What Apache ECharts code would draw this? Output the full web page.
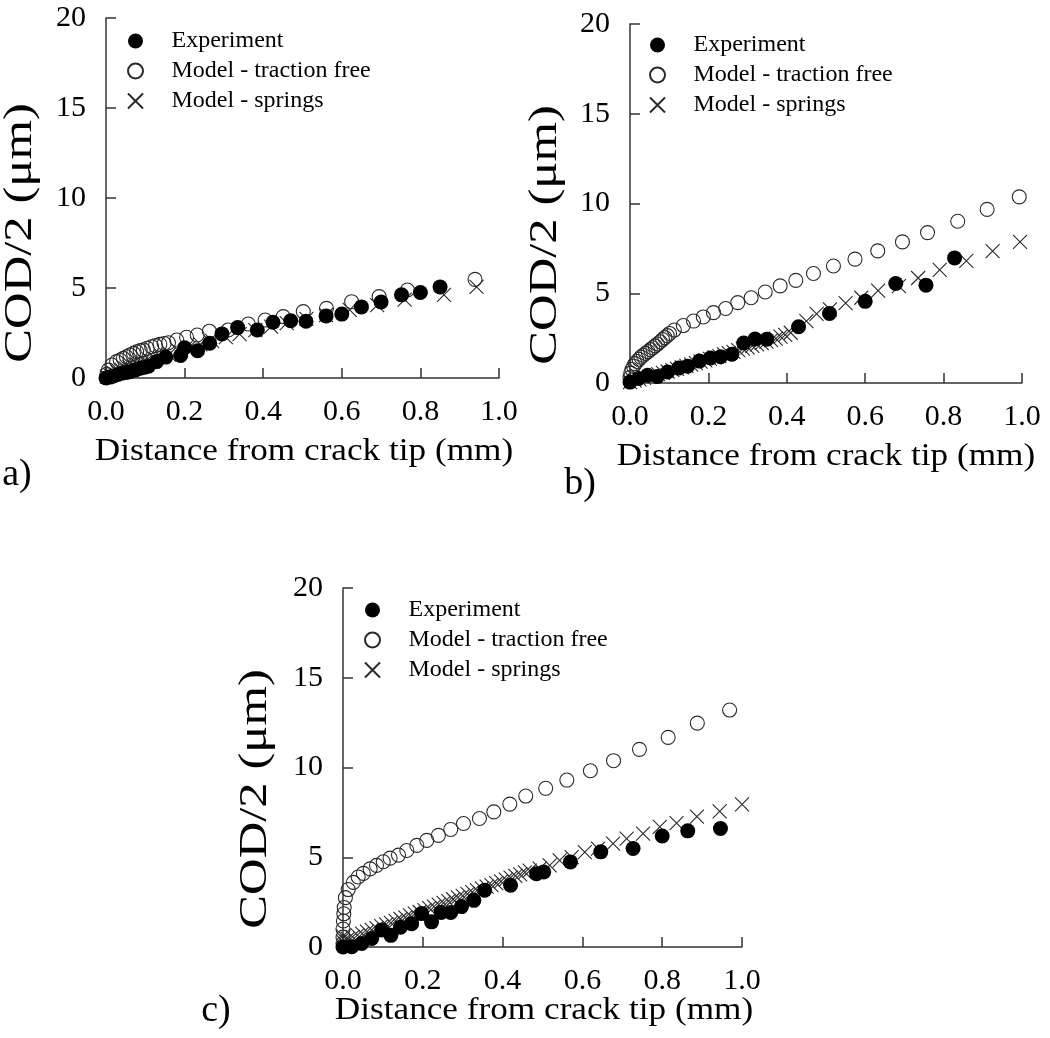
<!DOCTYPE html>
<html><head><meta charset="utf-8">
<script src="https://cdn.jsdelivr.net/npm/echarts@6/dist/echarts.min.js"></script>
<style>html,body{margin:0;padding:0;background:#fff}#c{width:1050px;height:1038px}</style>
</head><body><div id="c"></div>
<script>
// ---------- text ----------
const panelNames = ['a)', 'b)', 'c)'];
const seriesNames = ['Experiment', 'Model - traction free', 'Model - springs'];
const xTickLabels = ['0.0', '0.2', '0.4', '0.6', '0.8', '1.0'];
const yTickLabels = ['0', '5', '10', '15', '20'];
const xTitle = 'Distance from crack tip (mm)';
const yTitle = 'COD/2 (\u03bcm)';

// ---------- data (x: mm, y: µm) ----------
const expA = [[0.0,0.0],[0.01,0.05],[0.019,0.11],[0.03,0.2],[0.04,0.26],[0.05,0.3],[0.061,0.35],[0.075,0.45],[0.087,0.54],[0.098,0.6],[0.108,0.65],[0.129,0.91],[0.152,1.16],[0.19,1.25],[0.2,1.68],[0.233,1.52],[0.264,1.93],[0.295,2.45],[0.335,2.8],[0.385,2.67],[0.425,3.1],[0.47,3.18],[0.509,3.15],[0.56,3.45],[0.6,3.55],[0.65,3.95],[0.70,4.22],[0.752,4.62],[0.80,4.75],[0.85,5.06]];
const trfA = [[0.002,0.2],[0.006,0.44],[0.015,0.72],[0.027,0.91],[0.036,1.0],[0.044,1.09],[0.052,1.18],[0.061,1.28],[0.07,1.37],[0.078,1.46],[0.087,1.52],[0.095,1.56],[0.105,1.65],[0.116,1.74],[0.126,1.8],[0.137,1.87],[0.148,1.92],[0.159,1.96],[0.18,2.11],[0.205,2.26],[0.232,2.39],[0.263,2.6],[0.311,2.67],[0.362,3.0],[0.405,3.22],[0.451,3.41],[0.502,3.69],[0.561,3.87],[0.625,4.24],[0.695,4.52],[0.767,4.89],[0.939,5.48]];
const sprA = [[0.002,0.08],[0.01,0.17],[0.02,0.27],[0.03,0.36],[0.04,0.45],[0.05,0.53],[0.06,0.6],[0.07,0.68],[0.08,0.75],[0.09,0.82],[0.1,0.9],[0.112,0.97],[0.125,1.06],[0.14,1.17],[0.16,1.3],[0.185,1.49],[0.21,1.66],[0.24,1.87],[0.27,2.06],[0.305,2.27],[0.34,2.44],[0.38,2.66],[0.42,2.86],[0.46,3.05],[0.51,3.28],[0.56,3.5],[0.62,3.78],[0.69,4.05],[0.76,4.35],[0.86,4.62],[0.943,5.06]];

const expB = [[0.0,0.05],[0.022,0.25],[0.045,0.43],[0.07,0.36],[0.096,0.61],[0.124,0.83],[0.147,0.94],[0.177,1.22],[0.205,1.39],[0.231,1.46],[0.26,1.6],[0.29,2.23],[0.319,2.45],[0.349,2.44],[0.43,3.13],[0.509,3.87],[0.6,4.55],[0.678,5.54],[0.755,5.45],[0.828,6.97]];
const trfB = [[0.0,0.3],[0.002,0.55],[0.005,0.75],[0.009,0.93],[0.013,1.08],[0.018,1.2],[0.023,1.32],[0.028,1.44],[0.034,1.55],[0.04,1.65],[0.046,1.75],[0.052,1.86],[0.058,1.96],[0.064,2.07],[0.07,2.17],[0.077,2.3],[0.083,2.42],[0.089,2.53],[0.095,2.64],[0.101,2.76],[0.113,2.95],[0.136,3.2],[0.162,3.45],[0.187,3.68],[0.213,3.92],[0.244,4.15],[0.275,4.48],[0.309,4.75],[0.345,5.07],[0.383,5.41],[0.423,5.72],[0.468,6.1],[0.519,6.52],[0.574,6.9],[0.632,7.36],[0.695,7.86],[0.759,8.38],[0.836,9.01],[0.911,9.67],[0.993,10.37]];
const sprB = [[0.0,0.05],[0.012,0.13],[0.024,0.2],[0.036,0.28],[0.048,0.34],[0.06,0.42],[0.072,0.5],[0.084,0.56],[0.096,0.64],[0.108,0.72],[0.12,0.79],[0.132,0.87],[0.144,0.95],[0.156,1.02],[0.168,1.11],[0.18,1.19],[0.192,1.26],[0.204,1.35],[0.216,1.43],[0.228,1.5],[0.24,1.59],[0.252,1.67],[0.264,1.74],[0.276,1.83],[0.288,1.91],[0.3,1.98],[0.312,2.07],[0.324,2.15],[0.336,2.22],[0.348,2.31],[0.36,2.39],[0.372,2.47],[0.384,2.58],[0.396,2.68],[0.41,2.8],[0.45,3.45],[0.476,3.85],[0.51,4.1],[0.55,4.45],[0.59,4.75],[0.633,5.15],[0.686,5.4],[0.735,5.85],[0.79,6.3],[0.858,6.8],[0.925,7.35],[0.995,7.86]];

const expC = [[0.0,0.0],[0.022,0.02],[0.047,0.2],[0.072,0.47],[0.097,0.95],[0.12,0.65],[0.144,1.1],[0.172,1.3],[0.197,1.86],[0.222,1.4],[0.246,1.92],[0.27,1.92],[0.297,2.25],[0.328,2.6],[0.355,3.16],[0.42,3.44],[0.485,4.08],[0.503,4.18],[0.57,4.74],[0.646,5.3],[0.727,5.49],[0.8,6.18],[0.864,6.47],[0.946,6.6]];
const trfC = [[0.0,0.2],[0.0,0.55],[0.0,1.0],[0.001,1.45],[0.002,1.85],[0.003,2.2],[0.006,2.75],[0.013,3.2],[0.026,3.6],[0.038,3.9],[0.051,4.1],[0.068,4.35],[0.084,4.55],[0.101,4.75],[0.118,4.95],[0.139,5.12],[0.16,5.38],[0.185,5.66],[0.21,5.94],[0.239,6.22],[0.27,6.55],[0.302,6.88],[0.342,7.16],[0.378,7.53],[0.418,7.96],[0.458,8.41],[0.508,8.84],[0.561,9.3],[0.62,9.82],[0.678,10.38],[0.743,11.01],[0.815,11.68],[0.888,12.47],[0.969,13.2]];
const sprC = [[0.0,0.3],[0.0,0.6],[0.012,0.45],[0.024,0.56],[0.036,0.66],[0.048,0.75],[0.06,0.86],[0.072,0.96],[0.084,1.05],[0.096,1.16],[0.108,1.26],[0.12,1.35],[0.132,1.46],[0.144,1.56],[0.156,1.65],[0.168,1.76],[0.18,1.86],[0.192,1.95],[0.204,2.06],[0.216,2.16],[0.228,2.25],[0.24,2.36],[0.252,2.46],[0.264,2.55],[0.276,2.66],[0.288,2.76],[0.3,2.85],[0.312,2.96],[0.324,3.06],[0.336,3.15],[0.348,3.26],[0.36,3.36],[0.372,3.45],[0.384,3.56],[0.396,3.66],[0.408,3.75],[0.42,3.86],[0.432,3.96],[0.444,4.05],[0.456,4.16],[0.468,4.26],[0.493,4.37],[0.518,4.55],[0.543,4.83],[0.573,5.01],[0.606,5.29],[0.639,5.48],[0.677,5.76],[0.711,6.04],[0.752,6.32],[0.794,6.69],[0.836,6.9],[0.887,7.26],[0.944,7.55],[1.0,7.95]];

const panelData = [[expA, trfA, sprA], [expB, trfB, sprB], [expC, trfC, sprC]];

// ---------- layout / style ----------
const FONT = '"Liberation Serif", "Times New Roman", serif';
const AX = '#333';
const grids = [
  {left: 106, top: 18, width: 393, height: 360},
  {left: 630, top: 24, width: 392, height: 359},
  {left: 343, top: 588, width: 399, height: 359}
];
const legendPos = [{left: 127, top: 29}, {left: 649, top: 33}, {left: 364, top: 598}];
const xTitlePos = [[304, 452], [826, 457], [544, 1011]];
const yTitlePos = [[21, 233], [546, 235], [256, 799]];
const panelLabelPos = [[17, 475], [580, 484], [216, 1011]];

const CROSS = 'path://M0,0L10,10M10,0L0,10';
const seriesStyles = [
  {symbol: 'circle', symbolSize: 15, itemStyle: {color: '#000', borderColor: '#000', borderWidth: 0, opacity: 1}},
  {symbol: 'circle', symbolSize: 14, itemStyle: {color: 'rgba(0,0,0,0)', borderColor: '#2a2a2a', borderWidth: 1.1, opacity: 1}},
  {symbol: CROSS, symbolSize: 14, itemStyle: {color: 'rgba(0,0,0,0)', borderColor: '#2a2a2a', borderWidth: 1.1, opacity: 1}}
];
const drawOrder = [2, 1, 0]; // springs, traction free, experiment on top
const tickRich = {t: {fontFamily: FONT, fontSize: 30, color: '#000', fontWeight: 'normal'}};

const xAxes = [], yAxes = [], series = [], legends = [], graphics = [];
grids.forEach((g, i) => {
  xAxes.push({
    gridIndex: i, type: 'value', min: 0, max: 1, interval: 0.2,
    axisLine: {onZero: false, lineStyle: {color: AX, width: 1.5}},
    axisTick: {inside: true, length: 10, lineStyle: {color: AX, width: 1.5}},
    splitLine: {show: false},
    axisLabel: {margin: 19, color: '#000', fontFamily: FONT, fontSize: 30, rich: tickRich,
      formatter: (v) => '{t|' + xTickLabels[Math.round(v / 0.2)] + '}'}
  });
  yAxes.push({
    gridIndex: i, type: 'value', min: 0, max: 20, interval: 5,
    axisLine: {onZero: false, lineStyle: {color: AX, width: 1.5}},
    axisTick: {inside: true, length: 10, lineStyle: {color: AX, width: 1.5}},
    splitLine: {show: false},
    axisLabel: {margin: 20, color: '#000', fontFamily: FONT, fontSize: 30, rich: tickRich,
      formatter: (v) => '{t|' + yTickLabels[Math.round(v / 5)] + '}'}
  });
  drawOrder.forEach((k) => {
    series.push(Object.assign({
      type: 'scatter', name: seriesNames[k], xAxisIndex: i, yAxisIndex: i,
      data: panelData[i][k], silent: true, animation: false,
      emphasis: {disabled: true}
    }, JSON.parse(JSON.stringify(seriesStyles[k]))));
  });
  legends.push({
    orient: 'vertical', left: legendPos[i].left, top: legendPos[i].top,
    data: seriesNames.slice(), selectedMode: false,
    itemWidth: 62, itemHeight: 15, itemGap: 6, padding: 0,
    textStyle: {fontFamily: FONT, fontSize: 24, lineHeight: 24, color: '#000'}
  });
  graphics.push({
    type: 'text', x: xTitlePos[i][0], y: xTitlePos[i][1], scaleX: 1.1,
    style: {text: xTitle, x: 0, y: 0, align: 'center', verticalAlign: 'middle',
      font: '32px ' + FONT, fill: '#000'}
  });
  graphics.push({
    type: 'text', x: yTitlePos[i][0], y: yTitlePos[i][1], rotation: Math.PI / 2, scaleX: 1.3,
    style: {text: yTitle, x: 0, y: 0, align: 'center', verticalAlign: 'middle',
      font: '39px ' + FONT, fill: '#000'}
  });
  graphics.push({
    type: 'text', x: panelLabelPos[i][0], y: panelLabelPos[i][1],
    style: {text: panelNames[i], x: 0, y: 0, align: 'center', verticalAlign: 'middle',
      font: '38px ' + FONT, fill: '#000'}
  });
});

const chart = echarts.init(document.getElementById('c'), null, {renderer: 'canvas'});
chart.setOption({
  backgroundColor: '#fff',
  animation: false,
  grid: grids.map(g => Object.assign({outerBoundsMode: 'none', containLabel: false}, g)),
  xAxis: xAxes, yAxis: yAxes, series: series, legend: legends, graphic: graphics
});
</script></body></html>
